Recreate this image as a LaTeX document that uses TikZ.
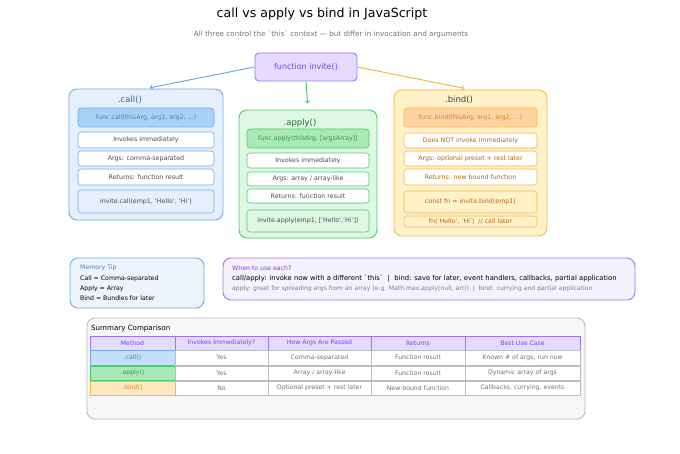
\documentclass[tikz,border=0pt]{standalone}
\usepackage{fontspec}
\setmainfont{DejaVu Sans}
\usepackage{xcolor}
\usepackage{tikz}
\usetikzlibrary{positioning}

\definecolor{purp}{HTML}{9775FA}
\definecolor{purpfill}{HTML}{E5DBFF}
\definecolor{purptext}{HTML}{7048E8}
\definecolor{bluel}{HTML}{74A9E6}
\definecolor{bluefill}{HTML}{E6F0FC}
\definecolor{bluesig}{HTML}{A9D1F6}
\definecolor{bluetext}{HTML}{4A7FC0}
\definecolor{greenl}{HTML}{51C96B}
\definecolor{greenfill}{HTML}{DDF7E3}
\definecolor{greensig}{HTML}{ABE8B7}
\definecolor{greentext}{HTML}{2F9E44}
\definecolor{orangel}{HTML}{F5B84A}
\definecolor{orangefill}{HTML}{FFF2C8}
\definecolor{orangesig}{HTML}{FFD3A3}
\definecolor{orangetext}{HTML}{D9822B}
\definecolor{greyl}{HTML}{B8BEC5}
\definecolor{greytext}{HTML}{6C757D}

\tikzset{
  panel/.style={draw, rounded corners=8pt, line width=0.9pt},
  item/.style={draw, rounded corners=3pt, fill=white, line width=0.6pt,
    text=black!70, font=\fontsize{6.3}{7}\selectfont},
  ptitle/.style={font=\fontsize{8.5}{10}\selectfont},
  line/.style={anchor=west, inner sep=0pt, font=\fontsize{6.2}{7}\selectfont},
  cell/.style={draw=greyl, fill=white, line width=0.5pt, minimum height=14.5pt,
    inner sep=0pt, text=greytext, font=\fontsize{6.2}{7}\selectfont},
  thead/.style={cell, draw=purp, fill=purpfill, text=purptext},
}

\begin{document}
\begin{tikzpicture}[x=1pt,y=-1pt]
\useasboundingbox (0,0) rectangle (680,454);
\fill[white] (0,0) rectangle (680,454);

% title
\node[font=\fontsize{12.6}{14}\selectfont] (title) at (322,14) {call vs apply vs bind in JavaScript};
\node[font=\fontsize{7.2}{8}\selectfont, text=black!55] (sub) at (331,34)
  {All three control the \textasciigrave this\textasciigrave{} context — but differ in invocation and arguments};

\node[draw=purp, fill=purpfill, text=purptext, rounded corners=4pt, line width=0.9pt,
  minimum width=102pt, minimum height=28pt, font=\fontsize{8}{9}\selectfont] (invite) at (306,67) {function invite()};

% .call()
\node[panel, draw=bluel, fill=bluefill, minimum width=154pt, minimum height=131pt] (call) at (146,154.5) {};
\node[ptitle, text=bluetext!80!black] (callt) at (130,100) {.call()};
\node[item, draw=bluel, fill=bluesig, text=bluetext, minimum width=136pt, minimum height=19pt] (callsig) at (146,117.5) {func.call(thisArg, arg1, arg2, ...)};
\node[item, draw=bluel, minimum width=136pt, minimum height=16pt] (call1) at (146,140) {Invokes immediately};
\node[item, draw=bluel, minimum width=136pt, minimum height=15pt] (call2) at (146,158.5) {Args: comma-separated};
\node[item, draw=bluel, minimum width=136pt, minimum height=16pt] (call3) at (146,177) {Returns: function result};
\node[item, draw=bluel, fill=bluefill, minimum width=136pt, minimum height=23pt] (callex) at (146,201.5) {invite.call(emp1, 'Hello', 'Hi')};

% .apply()
\node[panel, draw=greenl, fill=greenfill, minimum width=138pt, minimum height=128pt] (apply) at (308,174) {};
\node[ptitle, text=greentext!70!black] (applyt) at (300,123) {.apply()};
\node[item, draw=greenl, fill=greensig, text=greentext, minimum width=122pt, minimum height=19pt] (applysig) at (308,138.5) {func.apply(thisArg, [argsArray])};
\node[item, draw=greenl, minimum width=122pt, minimum height=15pt] (apply1) at (308,160.5) {Invokes immediately};
\node[item, draw=greenl, minimum width=122pt, minimum height=14pt] (apply2) at (308,179) {Args: array / array-like};
\node[item, draw=greenl, minimum width=122pt, minimum height=14pt] (apply3) at (308,196) {Returns: function result};
\node[item, draw=greenl, fill=greenfill, minimum width=122pt, minimum height=22pt] (applyex) at (308,221) {invite.apply(emp1, ['Hello','Hi'])};

% .bind()
\node[panel, draw=orangel, fill=orangefill, minimum width=153pt, minimum height=146pt] (bind) at (470.5,163) {};
\node[ptitle, text=black!75] (bindt) at (459,100) {.bind()};
\node[item, draw=orangel, fill=orangesig, text=orangetext, minimum width=133pt, minimum height=19pt] (bindsig) at (470.5,117.5) {func.bind(thisArg, arg1, arg2, ...)};
\node[item, draw=orangel, text=orangetext!80!black, minimum width=133pt, minimum height=15pt] (bind1) at (470.5,140.5) {Does NOT invoke immediately};
\node[item, draw=orangel, text=orangetext!80!black, minimum width=133pt, minimum height=15pt] (bind2) at (470.5,158.5) {Args: optional preset + rest later};
\node[item, draw=orangel, text=orangetext!80!black, minimum width=133pt, minimum height=16pt] (bind3) at (470.5,177) {Returns: new bound function};
\node[item, draw=orangel, fill=orangefill, text=orangetext!80!black, minimum width=133pt, minimum height=22pt] (bindex) at (470.5,202) {const fn = invite.bind(emp1)};
\node[item, draw=orangel, fill=orangefill, text=orangetext!80!black, minimum width=133pt, minimum height=11pt, inner sep=1pt] (bindex2) at (470.5,221.5) {fn('Hello', 'Hi')~~// call later};

% arrows
\draw[->, draw=bluel, line width=1pt, shorten >=4pt] (invite.west) -- (call.north);
\draw[->, draw=greenl, line width=1pt, shorten >=6pt] (invite.south) -- (apply.north);
\draw[->, draw=orangel, line width=1pt, shorten >=6pt] (invite.east) -- (bind.north);

% memory tip
\node[panel, draw=bluel, fill=bluefill!70!white, minimum width=134pt, minimum height=50pt] (tip) at (137,283) {};
\node[line, text=bluetext] (tip1) at (80,268) {Memory Tip};
\node[line] (tip2) at (80,279) {Call = Comma-separated};
\node[line] (tip3) at (80,289) {Apply = Array};
\node[line] (tip4) at (80,298) {Bind = Bundles for later};

% when to use
\node[panel, draw=purp, fill=purpfill!40!white, minimum width=412pt, minimum height=42pt] (when) at (429,279) {};
\node[line, text=purptext] (when1) at (232,268) {When to use each?};
\node[line, font=\fontsize{6.8}{7.5}\selectfont] (when2) at (232,279) {call/apply: invoke now with a different \textasciigrave this\textasciigrave{}~~|~~bind: save for later, event handlers, callbacks, partial application};
\node[line, text=black!50, font=\fontsize{6.1}{7}\selectfont] (when3) at (232,289) {apply: great for spreading args from an array (e.g. Math.max.apply(null, arr))~~|~~bind: currying and partial application};

% summary table
\node[panel, draw=greyl, fill=black!3, minimum width=498pt, minimum height=101pt] (sum) at (336,368.5) {};
\node[line, font=\fontsize{7.1}{8}\selectfont] (sumt) at (91,329) {Summary Comparison};
\foreach \c/\w/\t [count=\i] in {132.5/85/Method, 221.5/93/Invokes Immediately?, 319.5/103/How Args Are Passed, 418/94/Returns, 522.5/115/Best Use Case}
  \node[thead, minimum width=\w pt] (h\i) at (\c,343) {\t};
\node[cell, draw=bluel, fill=bluesig!70!white, text=bluetext, minimum width=85pt] (r1c1) at (132.5,357.5) {.call()};
\node[cell, draw=greenl, fill=greensig, text=greentext, minimum width=85pt] (r2c1) at (132.5,373) {.apply()};
\node[cell, draw=orangel, fill=orangefill!60!orangel!60, text=orangetext, minimum width=85pt] (r3c1) at (132.5,388) {.bind()};
\foreach \c/\w/\t [count=\i from 2] in {221.5/93/Yes, 319.5/103/Comma-separated, 418/94/Function result, 522.5/115/{Known \# of args, run now}}
  \node[cell, minimum width=\w pt] (r1c\i) at (\c,357.5) {\t};
\foreach \c/\w/\t [count=\i from 2] in {221.5/93/Yes, 319.5/103/{Array / array-like}, 418/94/Function result, 522.5/115/Dynamic array of args}
  \node[cell, minimum width=\w pt] (r2c\i) at (\c,373) {\t};
\foreach \c/\w/\t [count=\i from 2] in {221.5/93/No, 319.5/103/Optional preset + rest later, 418/94/New bound function, 522.5/115/{Callbacks, currying, events}}
  \node[cell, minimum width=\w pt] (r3c\i) at (\c,388) {\t};
\end{tikzpicture}
\end{document}
